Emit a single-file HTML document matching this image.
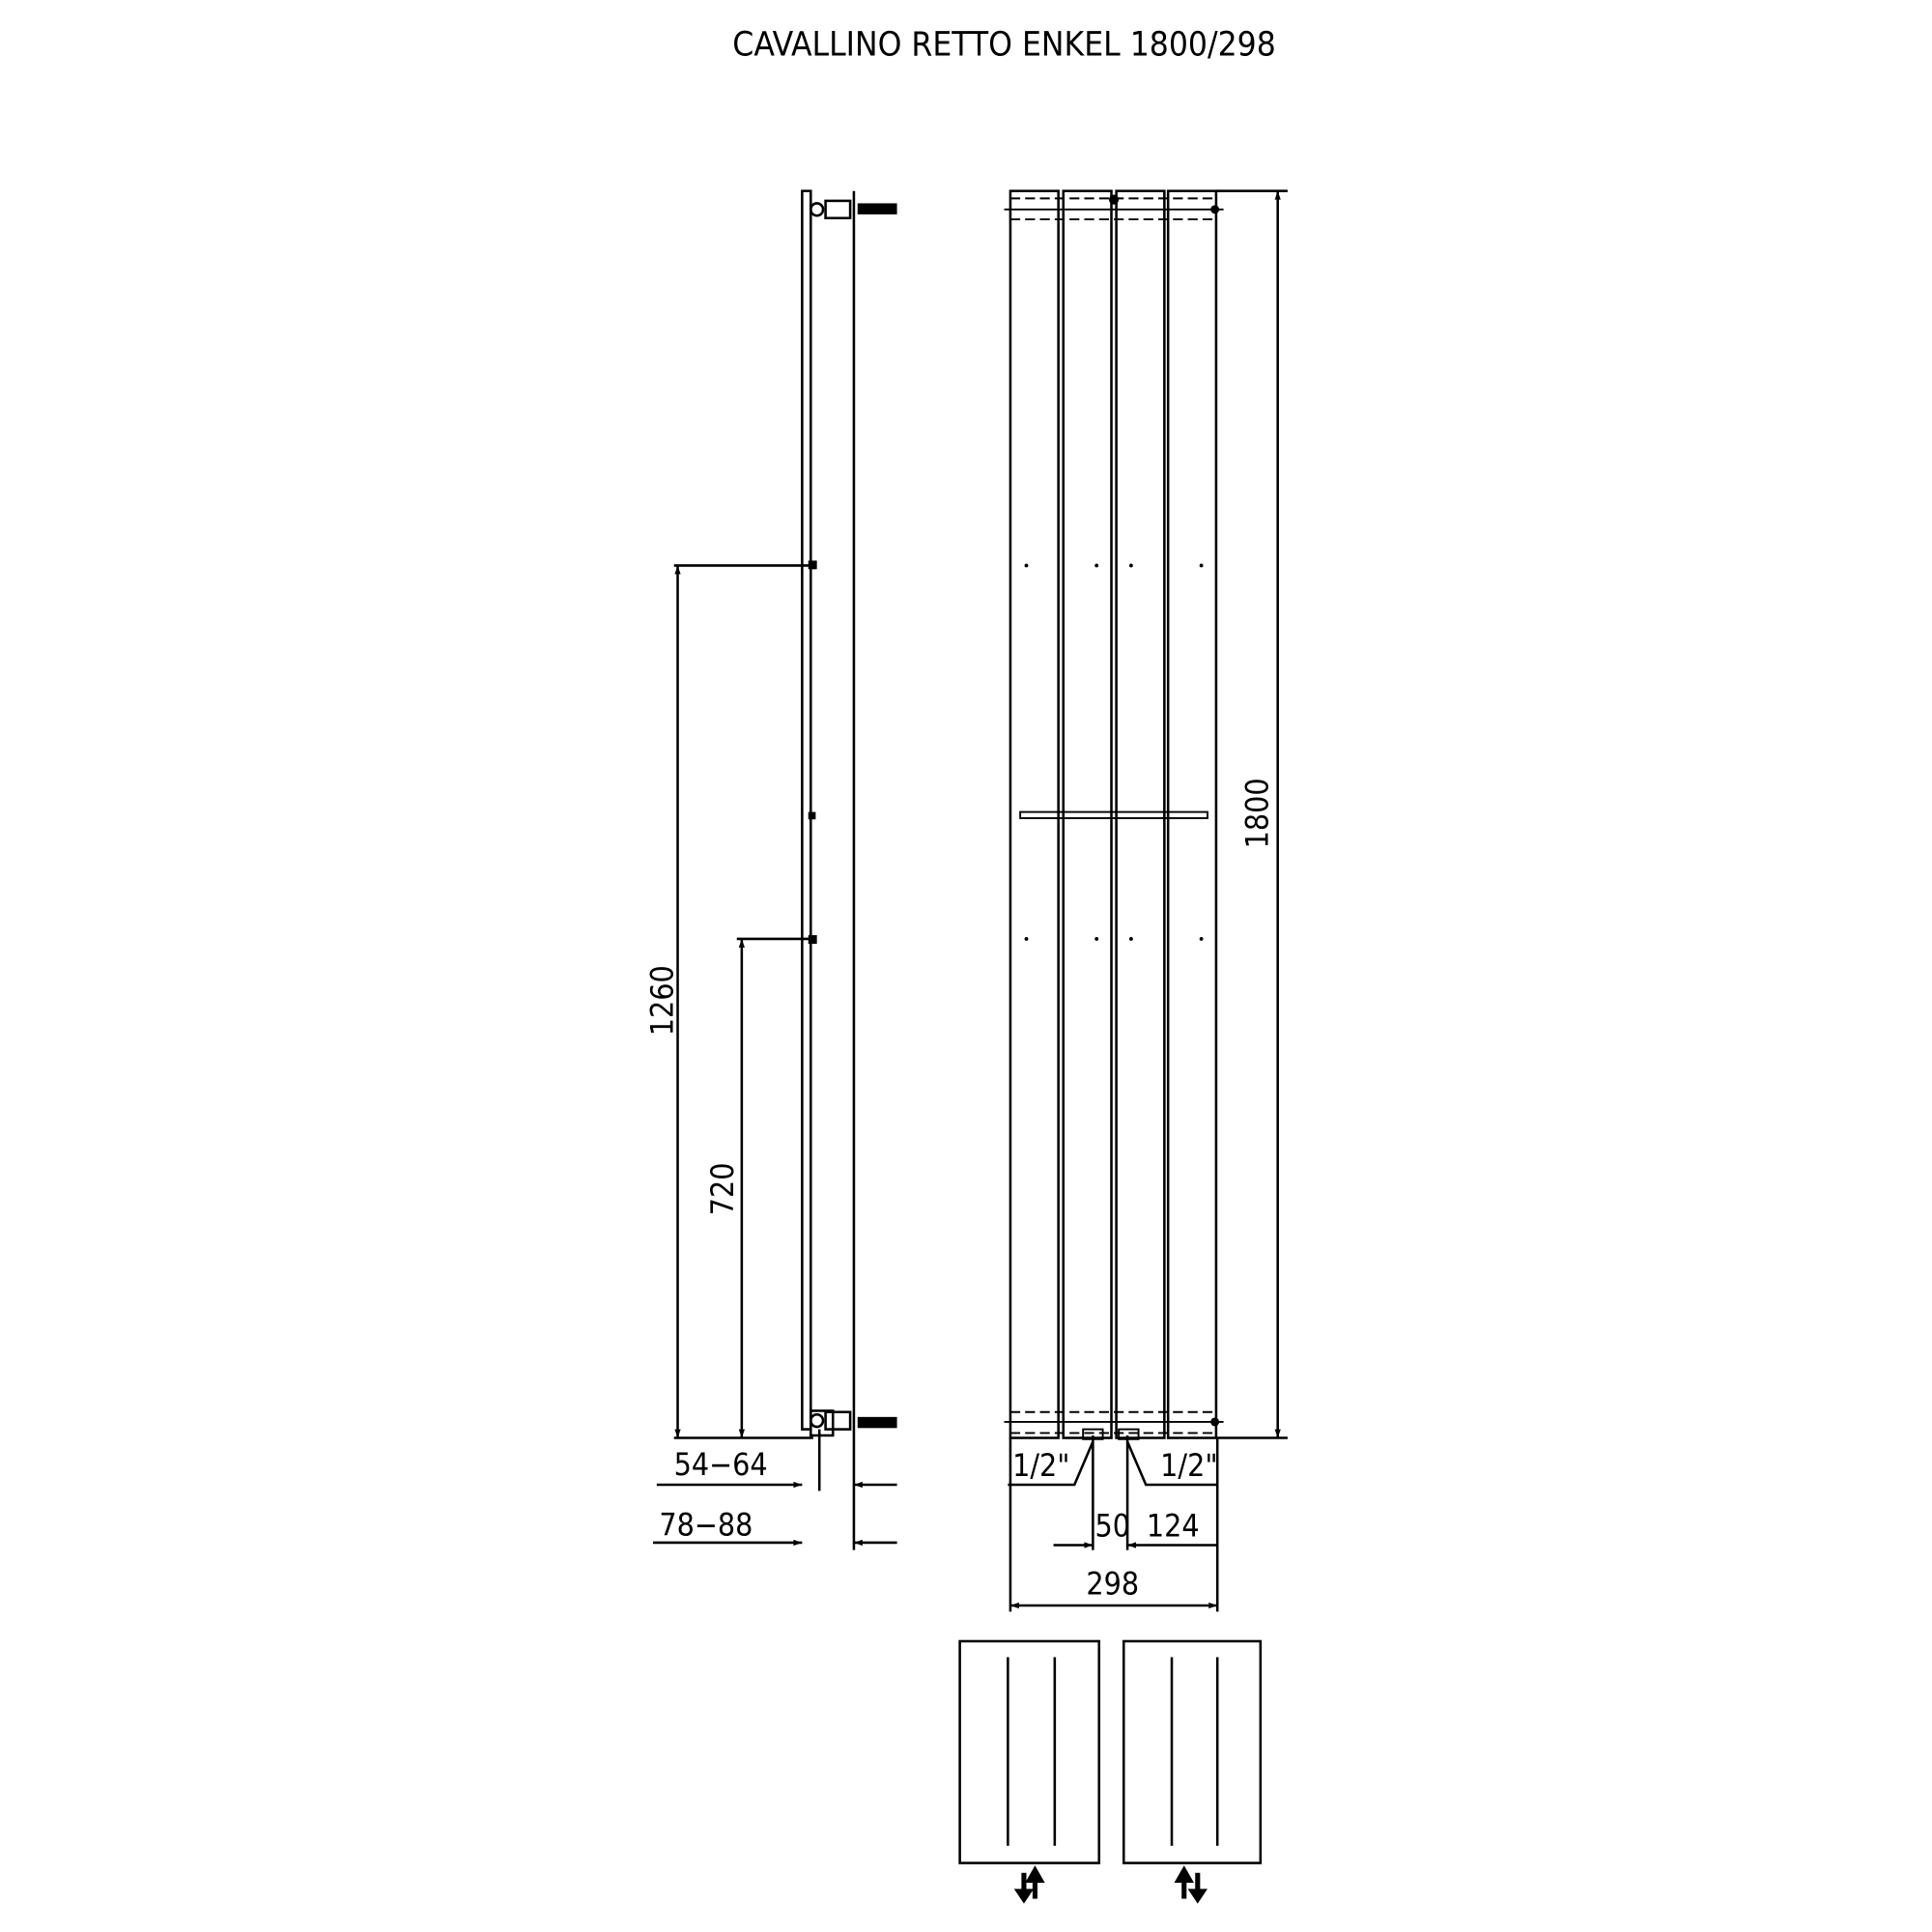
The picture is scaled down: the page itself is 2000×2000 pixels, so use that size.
<!DOCTYPE html>
<html><head><meta charset="utf-8"><style>
html,body{margin:0;padding:0;background:#fff}
svg{display:block}
text{font-family:"DejaVu Sans Condensed","DejaVu Sans","Liberation Sans",sans-serif;fill:#000}
</style></head><body>
<svg width="2000" height="2000" viewBox="0 0 1568 1568" xmlns="http://www.w3.org/2000/svg">
<defs>
<marker id="a" viewBox="0 0 10 10" refX="10" refY="5" markerWidth="16" markerHeight="7" markerUnits="userSpaceOnUse" orient="auto-start-reverse"><path d="M0,1.5 L10,5 L0,8.5z" fill="#000"/></marker>
</defs>
<text x="815" y="45" font-size="27.5" text-anchor="middle">CAVALLINO RETTO ENKEL 1800/298</text>
<g stroke="#000" stroke-width="2" fill="none">
<rect x="651" y="155" width="7" height="1005"/>
<line x1="693" y1="155" x2="693" y2="1258"/>
<circle cx="663" cy="170" r="5"/>
<rect x="670" y="163" width="20" height="14"/>
<rect x="697" y="166" width="30" height="7" fill="#000"/>
<circle cx="663" cy="1153" r="5"/>
<rect x="658" y="1145" width="18" height="20"/>
<rect x="670" y="1146" width="20" height="14"/>
<rect x="697" y="1151" width="30" height="7" fill="#000"/>
<line x1="665" y1="1160" x2="665" y2="1210"/>
<rect x="657" y="456" width="5" height="5" fill="#000"/>
<rect x="657" y="660" width="4" height="4" fill="#000"/>
<rect x="657" y="760" width="5" height="5" fill="#000"/>
<line x1="547" y1="459" x2="660" y2="459"/>
<line x1="550" y1="459" x2="550" y2="1167" marker-start="url(#a)" marker-end="url(#a)"/>
<line x1="598" y1="762" x2="660" y2="762"/>
<line x1="602" y1="762" x2="602" y2="1167" marker-start="url(#a)" marker-end="url(#a)"/>
<line x1="547" y1="1167" x2="660" y2="1167"/>
<line x1="533" y1="1205" x2="651" y2="1205" marker-end="url(#a)"/>
<line x1="728" y1="1205" x2="693" y2="1205" marker-end="url(#a)"/>
<line x1="530" y1="1252" x2="651" y2="1252" marker-end="url(#a)"/>
<line x1="728" y1="1252" x2="693" y2="1252" marker-end="url(#a)"/>
<rect x="820" y="155" width="39" height="1012"/>
<rect x="863" y="155" width="39" height="1012"/>
<rect x="906" y="155" width="39" height="1012"/>
<rect x="948" y="155" width="39" height="1012"/>
<g stroke-dasharray="8,4" stroke-width="1.5">
<line x1="820" y1="161" x2="987" y2="161"/><line x1="820" y1="178" x2="987" y2="178"/>
<line x1="820" y1="1146" x2="987" y2="1146"/><line x1="820" y1="1163" x2="987" y2="1163"/>
</g>
<line x1="815" y1="170" x2="993" y2="170" stroke-width="1.5"/>
<line x1="815" y1="1154" x2="993" y2="1154" stroke-width="1.5"/>
<rect x="828" y="659" width="152" height="5" stroke-width="1.5"/>
<line x1="987" y1="155" x2="1045" y2="155"/>
<line x1="987" y1="1167" x2="1045" y2="1167"/>
<line x1="1037" y1="155" x2="1037" y2="1167" marker-start="url(#a)" marker-end="url(#a)"/>
<rect x="879" y="1160" width="16" height="8" stroke-width="1.5"/>
<rect x="908" y="1160" width="16" height="8" stroke-width="1.5"/>
<polyline points="818,1205 872,1205 887,1170"/>
<polyline points="988,1205 930,1205 915,1170"/>
<line x1="887" y1="1165" x2="887" y2="1258"/>
<line x1="915" y1="1165" x2="915" y2="1258"/>
<line x1="855" y1="1254" x2="887" y2="1254" marker-end="url(#a)"/>
<line x1="988" y1="1254" x2="915" y2="1254" marker-end="url(#a)"/>
<line x1="820" y1="1167" x2="820" y2="1308"/>
<line x1="988" y1="1167" x2="988" y2="1308"/>
<line x1="820" y1="1303" x2="988" y2="1303" marker-start="url(#a)" marker-end="url(#a)"/>
<rect x="779" y="1332" width="113" height="180"/>
<rect x="912" y="1332" width="111" height="180"/>
<line x1="818" y1="1345" x2="818" y2="1498"/>
<line x1="856" y1="1345" x2="856" y2="1498"/>
<line x1="951" y1="1345" x2="951" y2="1498"/>
<line x1="988" y1="1345" x2="988" y2="1498"/>
</g>
<g fill="#000">
<circle cx="904" cy="162" r="4"/>
<circle cx="986" cy="170" r="3.5"/>
<circle cx="986" cy="1154" r="3.5"/>
<circle cx="833" cy="459" r="1.5"/><circle cx="890" cy="459" r="1.5"/><circle cx="918" cy="459" r="1.5"/><circle cx="975" cy="459" r="1.5"/>
<circle cx="833" cy="762" r="1.5"/><circle cx="890" cy="762" r="1.5"/><circle cx="918" cy="762" r="1.5"/><circle cx="975" cy="762" r="1.5"/>
<rect x="829" y="1520" width="4" height="18"/><path d="M823,1533 L839,1533 L831,1545z"/>
<rect x="838" y="1523" width="4" height="18"/><path d="M832,1528 L848,1528 L840,1514z"/>
<rect x="959" y="1523" width="4" height="18"/><path d="M953,1528 L969,1528 L961,1514z"/>
<rect x="970" y="1520" width="4" height="18"/><path d="M964,1533 L980,1533 L972,1545z"/>
</g>
<g font-size="25">
<text transform="translate(546,812) rotate(-90)" text-anchor="middle">1260</text>
<text transform="translate(595,965) rotate(-90)" text-anchor="middle">720</text>
<text transform="translate(1029,660) rotate(-90)" text-anchor="middle">1800</text>
<text x="585" y="1197" text-anchor="middle">54−64</text>
<text x="573" y="1246" text-anchor="middle">78−88</text>
<text x="845" y="1198" text-anchor="middle">1/2"</text>
<text x="965" y="1198" text-anchor="middle">1/2"</text>
<text x="903" y="1247" text-anchor="middle">50</text>
<text x="952" y="1247" text-anchor="middle">124</text>
<text x="903" y="1294" text-anchor="middle">298</text>
</g>
</svg>
</body></html>
